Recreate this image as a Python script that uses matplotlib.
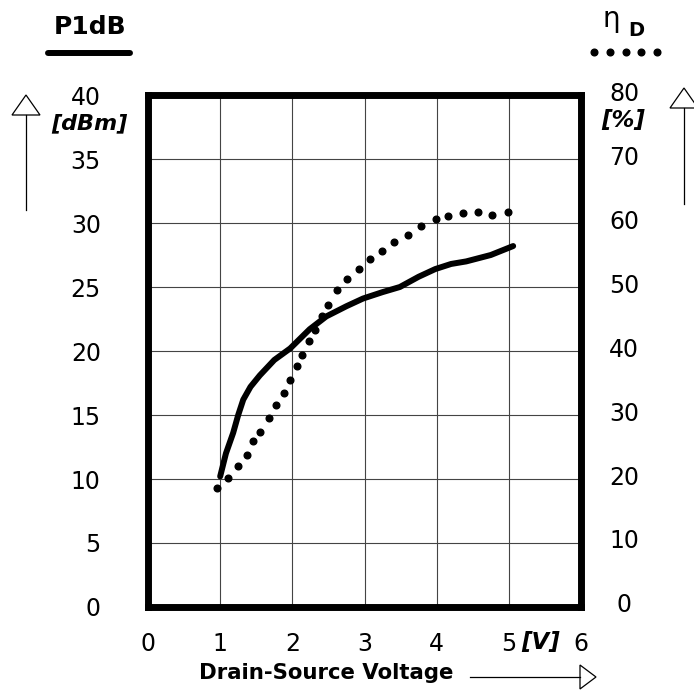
import numpy as np
import matplotlib
matplotlib.use("Agg")
import matplotlib.pyplot as plt
from matplotlib.lines import Line2D
from matplotlib.patches import Polygon
from matplotlib.transforms import ScaledTranslation

plt.rcParams['font.family'] = ['DejaVu Sans']

# Datos
v_p1db = [1.0, 1.08, 1.18, 1.25, 1.32, 1.42, 1.55, 1.75, 1.97, 2.24, 2.47, 2.75, 2.98, 3.25, 3.49, 3.75, 3.98, 4.2, 4.41, 4.75, 5.06]
p1db = [10.2, 12.0, 13.6, 15.0, 16.2, 17.2, 18.1, 19.3, 20.2, 21.7, 22.7, 23.5, 24.1, 24.6, 25.0, 25.8, 26.4, 26.8, 27.0, 27.5, 28.2]

v_eta = [0.95, 1.11, 1.25, 1.37, 1.46, 1.55, 1.67, 1.78, 1.88, 1.97, 2.06, 2.13, 2.23,
         2.32, 2.41, 2.50, 2.62, 2.76, 2.92, 3.07, 3.24, 3.41, 3.60, 3.78, 3.99, 4.16,
         4.37, 4.57, 4.77, 4.99]
eta = [18.6, 20.2, 22.0, 23.8, 25.9, 27.4, 29.5, 31.6, 33.5, 35.5, 37.6, 39.4, 41.5,
       43.3, 45.4, 47.2, 49.5, 51.2, 52.8, 54.4, 55.7, 57.0, 58.2, 59.5, 60.6, 61.1,
       61.6, 61.7, 61.3, 61.7]

x_ticks = [0, 1, 2, 3, 4, 5, 6]
y_ticks = [0, 5, 10, 15, 20, 25, 30, 35, 40]
y2_ticks = [0, 10, 20, 30, 40, 50, 60, 70, 80]

W, H = 694, 692
fig = plt.figure(figsize=(W / 100, H / 100), dpi=100)
ax = fig.add_axes([148 / W, 1 - 607 / H, (581 - 148) / W, (607 - 95) / H])
ax2 = ax.twinx()

# Curvas
ax.plot(v_p1db, p1db, color='black', lw=4.3, solid_capstyle='round',
        solid_joinstyle='round', zorder=3)
ax2.plot(v_eta, eta, 'o', color='black', ms=4.8, zorder=3)

ax.set_xlim(0, 6)
ax.set_ylim(0, 40)
ax2.set_ylim(0, 80)

ax.set_xticks(x_ticks)
ax.set_xticklabels([str(t) for t in x_ticks])
ax.set_yticks(y_ticks)
ax.set_yticklabels([str(t) for t in y_ticks])
ax2.set_yticks(y2_ticks)
ax2.set_yticklabels([str(t) for t in y2_ticks])

ax.tick_params(axis='both', length=0, labelsize=17)
ax.tick_params(axis='x', pad=18)
ax.tick_params(axis='y', pad=34)
ax2.tick_params(axis='y', length=0, labelsize=17, pad=31)
subir = ScaledTranslation(0, 4 / 100, fig.dpi_scale_trans)
for lab in ax2.get_yticklabels():
    lab.set_horizontalalignment('center')
    lab.set_transform(lab.get_transform() + subir)

ax.grid(True, color='#444444', lw=0.8)
ax.set_axisbelow(True)
for a in (ax, ax2):
    for s in a.spines.values():
        s.set_linewidth(4.8)
        s.set_color('black')

# Unidades
fig.text(89 / W, 1 - 123 / H, '[dBm]', ha='center', va='center', fontsize=16,
         fontweight='bold', fontstyle='italic')
fig.text(623 / W, 1 - 121 / H, '[%]', ha='center', va='center', fontsize=16.5,
         fontweight='bold', fontstyle='italic')
fig.text(541 / W, 1 - 643 / H, '[V]', ha='center', va='center', fontsize=16.5,
         fontweight='bold', fontstyle='italic')
fig.text(326 / W, 1 - 673 / H, 'Drain-Source Voltage', ha='center', va='center',
         fontsize=15.3, fontweight='bold')

# Leyendas arriba
fig.text(90 / W, 1 - 27 / H, 'P1dB', ha='center', va='center', fontsize=18,
         fontweight='bold')
fig.add_artist(Line2D([48 / W, 130 / W], [1 - 53 / H, 1 - 53 / H], color='black',
                      lw=4.3, solid_capstyle='round'))
fig.text(611 / W, 1 - 19 / H, 'η', ha='center', va='center', fontsize=20)
fig.text(636 / W, 1 - 30 / H, 'D', ha='center', va='center', fontsize=14,
         fontweight='bold')
fig.add_artist(Line2D(np.linspace(594, 657, 5) / W, [1 - 52 / H] * 5, ls='none',
                      marker='o', ms=4.8, color='black'))


def flecha(linea, punta):
    xs, ys = zip(*linea)
    fig.add_artist(Line2D(np.array(xs) / W, 1 - np.array(ys) / H, color='black', lw=0.9))
    pts = [(px / W, 1 - py / H) for px, py in punta]
    fig.add_artist(Polygon(pts, closed=True, fc='white', ec='black', lw=0.9,
                           transform=fig.transFigure))


flecha([(26, 210), (26, 115)], [(12, 115), (40, 115), (26, 95)])
flecha([(684, 204), (684, 108)], [(670, 108), (698, 108), (684, 88)])
flecha([(470, 677), (580, 677)], [(580, 665), (580, 689), (596, 677)])

fig.savefig('out.png', dpi=100)
